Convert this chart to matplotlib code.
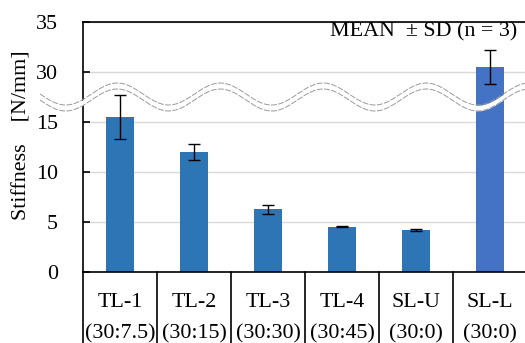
import numpy as np
import matplotlib.pyplot as plt

plt.rcParams["font.family"] = ["Liberation Serif", "DejaVu Serif"]

categories = ["TL-1", "TL-2", "TL-3", "TL-4", "SL-U", "SL-L"]
ratios = ["(30:7.5)", "(30:15)", "(30:30)", "(30:45)", "(30:0)", "(30:0)"]
means = [15.5, 12.0, 6.3, 4.55, 4.2, 30.5]
sds = [2.2, 0.8, 0.45, 0.05, 0.1, 1.7]
bar_colors = ["#2E75B6"] * 5 + ["#4472C4"]
tick_values = [0, 5, 10, 15, 30, 35]

# broken axis: values above the break are shifted down by 10
BREAK_SHIFT = 10.0
FS = 15.8


def to_axis(v):
    v = np.asarray(v, dtype=float)
    return np.where(v > 20, v - BREAK_SHIFT, v)


W, H = 525, 343
fig = plt.figure(figsize=(W / 100, H / 100), dpi=100)
ax = fig.add_axes([83 / W, (H - 272) / H, 444 / W, 250 / H])

x = np.arange(len(categories)) + 0.5
ax.bar(x, to_axis(means), width=0.39, color=bar_colors, zorder=2)
ax.errorbar(x, to_axis(means), yerr=sds, fmt="none", ecolor="black",
            elinewidth=1.0, capsize=4, capthick=1.0, zorder=3)

ax.set_xlim(0, 6)
ax.set_ylim(0, 25)
ax.set_yticks(to_axis(tick_values))
ax.set_yticklabels([str(t) for t in tick_values], fontsize=FS)
ax.tick_params(axis="y", direction="in", length=5, width=1.2, pad=18)
ax.set_xticks([])
ax.yaxis.grid(True, color="#D9D9D9", lw=1.0, zorder=0)
ax.set_axisbelow(True)
for s in ["top", "left", "bottom"]:
    ax.spines[s].set_linewidth(1.2)
ax.spines["right"].set_visible(False)

# table lines under the plot
for i in range(6):
    ax.plot([i, i], [0, -8], color="black", lw=1.2, clip_on=False)
for i, (c, r) in enumerate(zip(categories, ratios)):
    fig.text((83 + 74 * (i + 0.5)) / W, (H - 307) / H, c,
             ha="center", va="baseline", fontsize=FS)
    fig.text((83 + 74 * (i + 0.5)) / W, (H - 338) / H, r,
             ha="center", va="baseline", fontsize=FS)

# wavy break line
px = np.linspace(40, 530, 400)
py = 97 + 11 * np.sin(2 * np.pi * (px - 40) / 103)
wx = (px - 83) / 74
wy = (272 - py) / 10
ax.fill_between(wx, wy - 0.28, wy + 0.28, color="white", lw=0,
                clip_on=False, zorder=4)
for off in (-0.3, 0.3):
    ax.plot(wx, wy + off, color="#9A9A9A", lw=0.7, ls=(0, (6, 1.5)),
            clip_on=False, zorder=5)

ax.text(5.87, 24.0, "MEAN  ± SD (n = 3)", ha="right", va="center",
        fontsize=FS)
fig.text(22 / W, (H - 135) / H, "Stiffness    [N/mm]", rotation=90,
         ha="center", va="center", fontsize=FS)

fig.savefig("out.png", dpi=100)
